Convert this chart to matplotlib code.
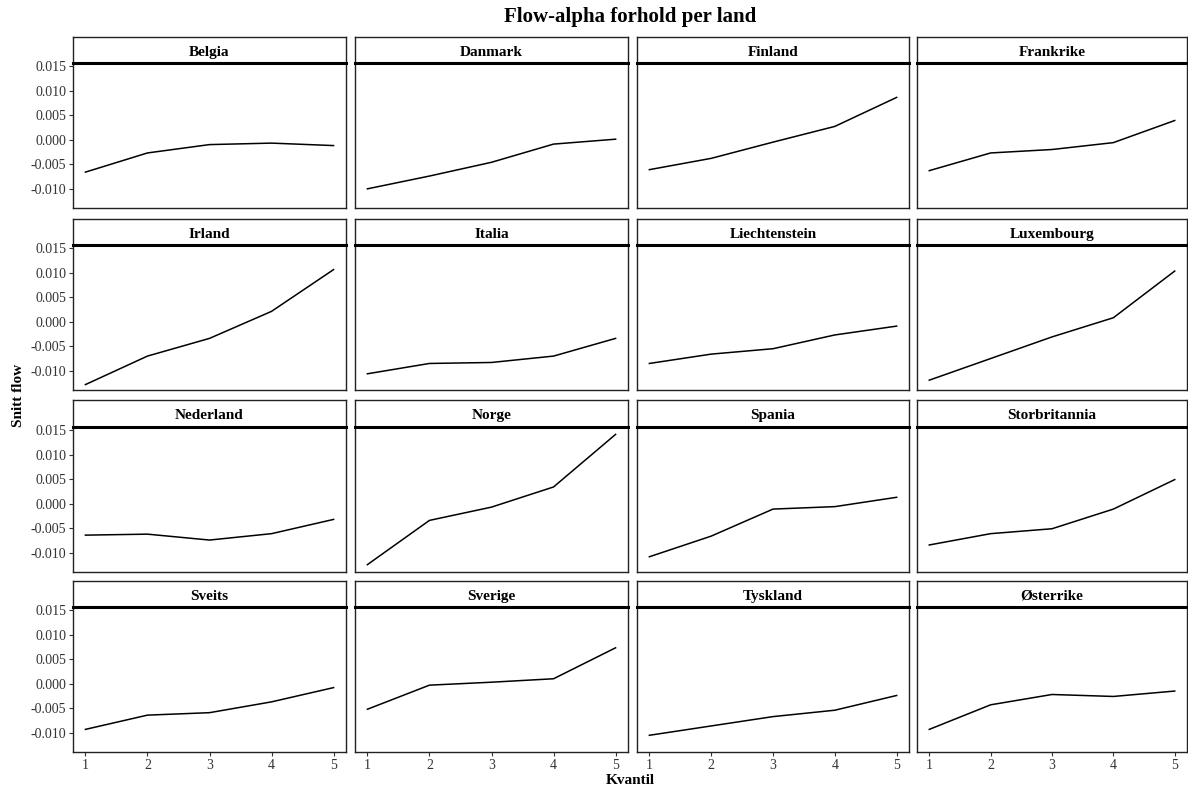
#!/usr/bin/env python3
"""Flow-alpha per land, small multiples"""
import matplotlib
matplotlib.use('Agg')
import matplotlib.pyplot as plt

plt.rcParams['font.family'] = ['Liberation Serif', 'DejaVu Serif']

# data: average flow per quantile for each country
kvantil = [1, 2, 3, 4, 5]
countries = ['Belgia', 'Danmark', 'Finland', 'Frankrike',
             'Irland', 'Italia', 'Liechtenstein', 'Luxembourg',
             'Nederland', 'Norge', 'Spania', 'Storbritannia',
             'Sveits', 'Sverige', 'Tyskland', 'Østerrike']
belgia = [-0.0066, -0.0027, -0.0010, -0.0007, -0.0012]
danmark = [-0.0100, -0.0074, -0.0046, -0.0009, 0.0001]
finland = [-0.0061, -0.0038, -0.0005, 0.0027, 0.0086]
frankrike = [-0.0063, -0.0027, -0.0020, -0.0006, 0.0039]
irland = [-0.0128, -0.0070, -0.0034, 0.0021, 0.0106]
italia = [-0.0106, -0.0085, -0.0083, -0.0070, -0.0034]
liechtenstein = [-0.0085, -0.0066, -0.0055, -0.0027, -0.0009]
luxembourg = [-0.0119, -0.0075, -0.0031, 0.0008, 0.0103]
nederland = [-0.0064, -0.0062, -0.0074, -0.0061, -0.0032]
norge = [-0.0124, -0.0034, -0.0007, 0.0034, 0.0141]
spania = [-0.0108, -0.0066, -0.0011, -0.0006, 0.0013]
storbritannia = [-0.0084, -0.0061, -0.0051, -0.0011, 0.0049]
sveits = [-0.0093, -0.0064, -0.0059, -0.0037, -0.0008]
sverige = [-0.0052, -0.0003, 0.0003, 0.0010, 0.0073]
tyskland = [-0.0105, -0.0086, -0.0067, -0.0054, -0.0024]
osterrike = [-0.0093, -0.0043, -0.0022, -0.0026, -0.0015]
series = [belgia, danmark, finland, frankrike, irland, italia, liechtenstein,
          luxembourg, nederland, norge, spania, storbritannia, sveits,
          sverige, tyskland, osterrike]
yticks = [-0.010, -0.005, 0.000, 0.005, 0.010, 0.015]

W, H = 1188, 791
fig = plt.figure(figsize=(W / 100, H / 100), dpi=100)

# pixel layout of the panel grid
col_x = [(73, 346), (355, 628), (637, 909), (917, 1187)]
row_y = [(37, 63, 208), (219, 245, 390), (400, 427, 572), (581, 607, 752)]

for i, (name, vals) in enumerate(zip(countries, series)):
    r, c = divmod(i, 4)
    x0, x1 = col_x[c]
    ys, yl, yb = row_y[r]
    ax = fig.add_axes([x0 / W, (H - yb) / H, (x1 - x0) / W, (yb - yl) / H])
    ax.plot(kvantil, vals, color='black', lw=1.1)
    ax.set_xlim(0.8, 5.2)
    ax.set_ylim(-0.0139, 0.0156)
    ax.set_xticks(kvantil)
    ax.set_yticks(yticks)
    ax.set_yticklabels([f'{v:.3f}' for v in yticks])
    for s in ax.spines.values():
        s.set_linewidth(1.0)
        s.set_color('#222222')
    ax.tick_params(length=3, width=0.8, color='#333333',
                   labelsize=10, labelcolor='#333333', pad=2)
    if c != 0:
        ax.tick_params(axis='y', left=False, labelleft=False)
    if r != 3:
        ax.tick_params(axis='x', bottom=False, labelbottom=False)

    # strip with title
    sx = fig.add_axes([x0 / W, (H - yl) / H, (x1 - x0) / W, (yl - ys) / H])
    sx.set_xticks([])
    sx.set_yticks([])
    for s in sx.spines.values():
        s.set_linewidth(1.0)
        s.set_color('#222222')
    sx.spines['bottom'].set_linewidth(2.2)
    sx.spines['bottom'].set_color('black')
    sx.text(0.5, 0.47, name, ha='center', va='center_baseline', fontsize=11,
            fontweight='bold', transform=sx.transAxes)

fig.text(630 / W, 1 - 17 / H, 'Flow-alpha forhold per land', ha='center',
         va='center', fontsize=15, fontweight='bold')
fig.text(630 / W, 1 - 781 / H, 'Kvantil', ha='center', va='center',
         fontsize=11, fontweight='bold')
fig.text(18 / W, 1 - 395 / H, 'Snitt flow', ha='center', va='center',
         fontsize=11, fontweight='bold', rotation=90)

fig.savefig('out.png', dpi=100)
